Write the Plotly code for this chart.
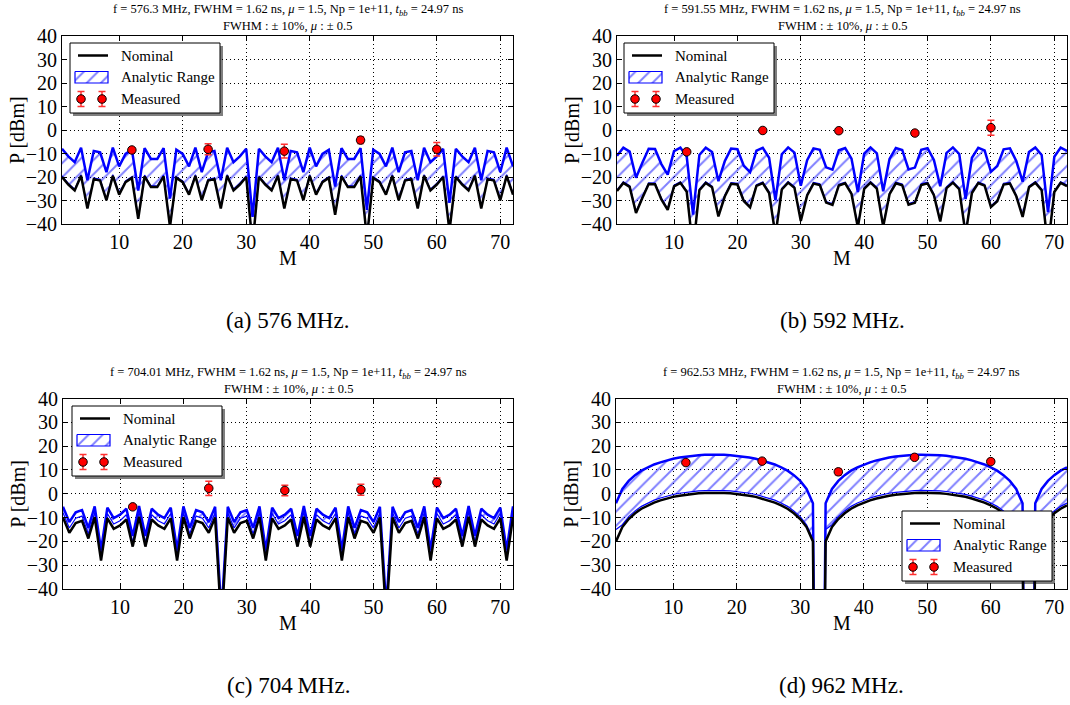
import plotly.graph_objects as go

W, H = 1070, 705
FONT = "Liberation Serif"

M = list(range(1, 73))
M_MEAS = [12, 24, 36, 48, 60]
XTICKS = [10, 20, 30, 40, 50, 60, 70]
YTICKS = [-40, -30, -20, -10, 0, 10, 20, 30, 40]
YTICKTEXT = ["\u221240", "\u221230", "\u221220", "\u221210", "0", "10", "20", "30", "40"]
LEGEND_NAMES = ["Nominal", "Analytic Range", "Measured"]

# ---------------- (a) 576 MHz ----------------
A_NOM = [-20.0, -23.2, -25.7, -19.5, -33.4, -20.9, -21.5, -29.9, -19.5, -27.5,
         -22.2, -20.4, -37.8, -19.7, -24.3, -24.3, -19.7, -41.2, -20.4, -22.2,
         -27.5, -19.5, -29.9, -21.5, -20.9, -33.4, -19.5, -25.7, -23.2, -20.0,
         -49.0, -20.0, -23.2, -25.7, -19.5, -33.4, -20.9, -21.5, -29.9, -19.5,
         -27.5, -22.2, -20.4, -36.1, -19.7, -24.3, -24.3, -19.7, -46.0, -20.4,
         -22.2, -27.5, -19.5, -29.9, -21.5, -20.9, -33.4, -19.5, -25.7, -23.2,
         -20.0, -43.0, -20.0, -23.2, -25.7, -19.5, -33.4, -20.9, -21.5, -29.9,
         -19.5, -27.5]
A_UP = [-8.0, -11.2, -13.7, -7.5, -21.4, -8.9, -9.5, -17.9, -7.5, -15.5,
        -10.2, -8.4, -25.8, -7.7, -12.3, -12.3, -7.7, -29.2, -8.4, -10.2,
        -15.5, -7.5, -17.9, -9.5, -8.9, -21.4, -7.5, -13.7, -11.2, -8.0,
        -37.0, -8.0, -11.2, -13.7, -7.5, -21.4, -8.9, -9.5, -17.9, -7.5,
        -15.5, -10.2, -8.4, -24.1, -7.7, -12.3, -12.3, -7.7, -34.0, -8.4,
        -10.2, -15.5, -7.5, -17.9, -9.5, -8.9, -21.4, -7.5, -13.7, -11.2,
        -8.0, -31.0, -8.0, -11.2, -13.7, -7.5, -21.4, -8.9, -9.5, -17.9,
        -7.5, -15.5]
A_LOW = [-19.5, -22.7, -25.2, -19.0, -32.9, -20.4, -21.0, -29.4, -19.0, -27.0,
         -21.7, -19.9, -37.3, -19.2, -23.8, -23.8, -19.2, -40.7, -19.9, -21.7,
         -27.0, -19.0, -29.4, -21.0, -20.4, -32.9, -19.0, -25.2, -22.7, -19.5,
         -48.5, -19.5, -22.7, -25.2, -19.0, -32.9, -20.4, -21.0, -29.4, -19.0,
         -27.0, -21.7, -19.9, -35.6, -19.2, -23.8, -23.8, -19.2, -45.5, -19.9,
         -21.7, -27.0, -19.0, -29.4, -21.0, -20.4, -32.9, -19.0, -25.2, -22.7,
         -19.5, -42.5, -19.5, -22.7, -25.2, -19.0, -32.9, -20.4, -21.0, -29.4,
         -19.0, -27.0]
A_MEAS = [-8.5, -8.2, -9.0, -4.3, -8.2]
A_ERR = [0.5, 2.3, 2.9, 1.4, 2.9]

# ---------------- (b) 592 MHz ----------------
B_NOM = [-26.0, -22.5, -24.2, -35.3, -28.9, -23.0, -23.1, -29.5, -34.0, -24.0,
         -22.5, -26.3, -51.0, -25.6, -22.5, -24.4, -36.8, -28.3, -22.9, -23.2,
         -30.2, -32.9, -23.8, -22.6, -26.8, -44.9, -25.3, -22.4, -24.6, -38.7,
         -27.8, -22.8, -23.4, -30.9, -31.9, -23.6, -22.7, -27.2, -41.4, -25.0,
         -22.4, -24.9, -41.1, -27.3, -22.7, -23.5, -31.8, -31.0, -23.4, -22.7,
         -27.7, -38.9, -24.7, -22.4, -25.2, -44.4, -26.8, -22.6, -23.7, -32.8,
         -30.3, -23.2, -22.8, -28.2, -37.0, -24.4, -22.4, -25.6, -49.9, -26.4,
         -22.5, -23.9]
B_UP = [-11.0, -7.5, -9.2, -20.3, -13.9, -8.0, -8.1, -14.5, -19.0, -9.0,
        -7.5, -11.3, -36.0, -10.6, -7.5, -9.4, -21.8, -13.3, -7.9, -8.2,
        -15.2, -17.9, -8.8, -7.6, -11.8, -29.9, -10.3, -7.4, -9.6, -23.7,
        -12.8, -7.8, -8.4, -15.9, -16.9, -8.6, -7.7, -12.2, -26.4, -10.0,
        -7.4, -9.9, -26.1, -12.3, -7.7, -8.5, -16.8, -16.0, -8.4, -7.7,
        -12.7, -23.9, -9.7, -7.4, -10.2, -29.4, -11.8, -7.6, -8.7, -17.8,
        -15.3, -8.2, -7.8, -13.2, -22.0, -9.4, -7.4, -10.6, -34.9, -11.4,
        -7.5, -8.9]
B_LOW = [-25.5, -22.0, -23.7, -34.8, -28.4, -22.5, -22.6, -29.0, -33.5, -23.5,
         -22.0, -25.8, -50.5, -25.1, -22.0, -23.9, -36.3, -27.8, -22.4, -22.7,
         -29.7, -32.4, -23.3, -22.1, -26.3, -44.4, -24.8, -21.9, -24.1, -38.2,
         -27.3, -22.3, -22.9, -30.4, -31.4, -23.1, -22.2, -26.7, -40.9, -24.5,
         -21.9, -24.4, -40.6, -26.8, -22.2, -23.0, -31.3, -30.5, -22.9, -22.2,
         -27.2, -38.4, -24.2, -21.9, -24.7, -43.9, -26.3, -22.1, -23.2, -32.3,
         -29.8, -22.7, -22.3, -27.7, -36.5, -23.9, -21.9, -25.1, -49.4, -25.9,
         -22.0, -23.4]
B_MEAS = [-9.3, -0.2, -0.3, -1.3, 1.0]
B_ERR = [0.4, 0.5, 0.8, 0.8, 3.2]

# ---------------- (c) 704 MHz ----------------
C_NOM = [-10.0, -16.4, -12.3, -11.4, -18.8, -9.8, -28.1, -10.3, -14.7, -13.3,
         -10.8, -22.2, -9.7, -22.2, -10.8, -13.3, -14.7, -10.3, -28.1, -9.8,
         -18.8, -11.4, -12.3, -16.4, -10.0, -55.0, -10.0, -16.4, -12.3, -11.4,
         -18.8, -9.8, -28.1, -10.3, -14.7, -13.3, -10.8, -22.2, -9.7, -22.2,
         -10.8, -13.3, -14.7, -10.3, -28.1, -9.8, -18.8, -11.4, -12.3, -16.4,
         -10.0, -52.0, -10.0, -16.4, -12.3, -11.4, -18.8, -9.8, -28.1, -10.3,
         -14.7, -13.3, -10.8, -22.2, -9.7, -22.2, -10.8, -13.3, -14.7, -10.3,
         -28.1, -9.8]
C_UP = [-5.5, -11.9, -7.8, -6.9, -14.3, -5.3, -23.6, -5.8, -10.2, -8.8,
        -6.3, -17.7, -5.2, -17.7, -6.3, -8.8, -10.2, -5.8, -23.6, -5.3,
        -14.3, -6.9, -7.8, -11.9, -5.5, -50.5, -5.5, -11.9, -7.8, -6.9,
        -14.3, -5.3, -23.6, -5.8, -10.2, -8.8, -6.3, -17.7, -5.2, -17.7,
        -6.3, -8.8, -10.2, -5.8, -23.6, -5.3, -14.3, -6.9, -7.8, -11.9,
        -5.5, -47.5, -5.5, -11.9, -7.8, -6.9, -14.3, -5.3, -23.6, -5.8,
        -10.2, -8.8, -6.3, -17.7, -5.2, -17.7, -6.3, -8.8, -10.2, -5.8,
        -23.6, -5.3]
C_LOW = [-8.0, -14.4, -10.3, -9.4, -16.8, -7.8, -26.1, -8.3, -12.7, -11.3,
         -8.8, -20.2, -7.7, -20.2, -8.8, -11.3, -12.7, -8.3, -26.1, -7.8,
         -16.8, -9.4, -10.3, -14.4, -8.0, -53.0, -8.0, -14.4, -10.3, -9.4,
         -16.8, -7.8, -26.1, -8.3, -12.7, -11.3, -8.8, -20.2, -7.7, -20.2,
         -8.8, -11.3, -12.7, -8.3, -26.1, -7.8, -16.8, -9.4, -10.3, -14.4,
         -8.0, -50.0, -8.0, -14.4, -10.3, -9.4, -16.8, -7.8, -26.1, -8.3,
         -12.7, -11.3, -8.8, -20.2, -7.7, -20.2, -8.8, -11.3, -12.7, -8.3,
         -26.1, -7.8]
C_MEAS = [-5.5, 2.3, 1.4, 1.7, 4.8]
C_ERR = [0.5, 3.0, 2.2, 2.3, 1.8]

# ---------------- (d) 962 MHz ----------------
D_NOM = [-20.0, -14.0, -10.6, -8.2, -6.3, -4.9, -3.7, -2.8, -2.0, -1.3,
         -0.8, -0.4, -0.05, 0.2, 0.35, 0.43, 0.43, 0.35, 0.2, -0.05,
         -0.4, -0.8, -1.3, -2.0, -2.8, -3.7, -4.9, -6.3, -8.2, -10.6,
         -14.0, -20.0, -300.0, -20.0, -14.0, -10.6, -8.2, -6.3, -4.9, -3.7,
         -2.8, -2.0, -1.3, -0.8, -0.4, -0.05, 0.2, 0.35, 0.43, 0.43,
         0.35, 0.2, -0.05, -0.4, -0.8, -1.3, -2.0, -2.8, -3.7, -4.9,
         -6.3, -8.2, -10.6, -14.0, -20.0, -300.0, -20.0, -14.0, -10.6, -8.2,
         -6.3, -4.9]
D_UP = [-4.0, 2.0, 5.4, 7.8, 9.7, 11.1, 12.3, 13.2, 14.0, 14.7,
        15.2, 15.6, 15.95, 16.2, 16.35, 16.43, 16.43, 16.35, 16.2, 15.95,
        15.6, 15.2, 14.7, 14.0, 13.2, 12.3, 11.1, 9.7, 7.8, 5.4,
        2.0, -4.0, -300.0, -4.0, 2.0, 5.4, 7.8, 9.7, 11.1, 12.3,
        13.2, 14.0, 14.7, 15.2, 15.6, 15.95, 16.2, 16.35, 16.43, 16.43,
        16.35, 16.2, 15.95, 15.6, 15.2, 14.7, 14.0, 13.2, 12.3, 11.1,
        9.7, 7.8, 5.4, 2.0, -4.0, -300.0, -4.0, 2.0, 5.4, 7.8,
        9.7, 11.1]
D_LOW = [-15.0, -13.0, -9.6, -7.2, -5.3, -3.9, -2.7, -1.8, -1.0, -0.3,
         0.2, 0.6, 0.95, 1.2, 1.35, 1.43, 1.43, 1.35, 1.2, 0.95,
         0.6, 0.2, -0.3, -1.0, -1.8, -2.7, -3.9, -5.3, -7.2, -9.6,
         -13.0, -19.0, -300.0, -15.0, -13.0, -9.6, -7.2, -5.3, -3.9, -2.7,
         -1.8, -1.0, -0.3, 0.2, 0.6, 0.95, 1.2, 1.35, 1.43, 1.43,
         1.35, 1.2, 0.95, 0.6, 0.2, -0.3, -1.0, -1.8, -2.7, -3.9,
         -5.3, -7.2, -9.6, -13.0, -19.0, -300.0, -15.0, -13.0, -9.6, -7.2,
         -5.3, -3.9]
D_MEAS = [13.1, 13.7, 9.2, 15.3, 13.5]
D_ERR = [0.6, 0.6, 1.3, 0.6, 1.0]

TITLE1 = ["f = 576.3 MHz", "f = 591.55 MHz", "f = 704.01 MHz", "f = 962.53 MHz"]
TITLE_REST = ", FWHM = 1.62 ns, <i>\u03bc</i> = 1.5, Np = 1e+11, <i>t<sub>bb</sub></i> = 24.97 ns"
TITLE2 = "FWHM : \u00b1 10%, <i>\u03bc</i> : \u00b1 0.5"
CAPTIONS = ["(a) 576\u2009MHz.", "(b) 592\u2009MHz.", "(c) 704\u2009MHz.", "(d) 962\u2009MHz."]

# plot areas in pixels: (left, top, right, bottom)
BOXES = [(62, 36, 513, 224), (617, 36, 1067, 224),
         (63, 398.5, 513, 589), (616, 398.5, 1067, 589)]
PANELS = [(A_NOM, A_UP, A_LOW, A_MEAS, A_ERR),
          (B_NOM, B_UP, B_LOW, B_MEAS, B_ERR),
          (C_NOM, C_UP, C_LOW, C_MEAS, C_ERR),
          (D_NOM, D_UP, D_LOW, D_MEAS, D_ERR)]
# legend boxes: (left, top) px, fixed size
LEG = [(70, 43), (624, 43), (72, 406), (902, 511)]
LW, LH = 150, 70

HATCH = dict(shape="/", fgcolor="blue", bgcolor="rgba(255,255,255,0)",
             size=10, solidity=0.2)


def px(x):
    return x / W


def py(y):
    return 1 - y / H


fig = go.Figure()
layout = dict(width=W, height=H, autosize=False,
              margin=dict(l=0, r=0, t=0, b=0, pad=0, autoexpand=False),
              paper_bgcolor="white", plot_bgcolor="rgba(0,0,0,0)",
              font=dict(family=FONT, color="black"), showlegend=False)
annotations = []

for i, (nom, up, low, meas, err) in enumerate(PANELS):
    n = "" if i == 0 else str(i + 1)
    xa, ya = "x" + n, "y" + n
    l, t, r, b = BOXES[i]
    fig.add_trace(go.Scatter(x=M, y=low, mode="lines", xaxis=xa, yaxis=ya,
                             line=dict(color="blue", width=1.2), hoverinfo="skip"))
    fig.add_trace(go.Scatter(x=M, y=up, mode="lines", xaxis=xa, yaxis=ya,
                             fill="tonexty", fillcolor="rgba(0,0,0,0)",
                             fillpattern=HATCH,
                             line=dict(color="blue", width=2.5),
                             name="Analytic Range"))
    fig.add_trace(go.Scatter(x=M, y=nom, mode="lines", xaxis=xa, yaxis=ya,
                             line=dict(color="black", width=2.5), name="Nominal"))
    fig.add_trace(go.Scatter(x=M_MEAS, y=meas, mode="markers", xaxis=xa, yaxis=ya,
                             marker=dict(color="red", size=8.5,
                                         line=dict(color="black", width=1)),
                             error_y=dict(type="data", array=err, color="#ff3030",
                                          thickness=1.5, width=3.5),
                             name="Measured"))

    axcommon = dict(ticks="inside", ticklen=5, tickcolor="black", mirror="ticks",
                    showline=True, linecolor="black", linewidth=1,
                    showgrid=True, gridcolor="black", gridwidth=1,
                    griddash="1px,3px", zeroline=False, automargin=False,
                    tickfont=dict(family=FONT, size=20))
    layout["xaxis" + n] = dict(axcommon, domain=[px(l), px(r)], anchor=ya,
                               range=[1, 72], tickvals=XTICKS)
    layout["yaxis" + n] = dict(axcommon, domain=[py(b), py(t)], anchor=xa,
                               range=[-40, 40], tickvals=YTICKS, ticktext=YTICKTEXT)

    cx = (l + r) / 2
    annotations.append(dict(x=px(cx), y=py(t - 26), xref="paper", yref="paper",
                            text=TITLE1[i] + TITLE_REST, showarrow=False,
                            font=dict(family=FONT, size=12.5), xanchor="center",
                            yanchor="middle"))
    annotations.append(dict(x=px(cx), y=py(t - 10), xref="paper", yref="paper",
                            text=TITLE2, showarrow=False,
                            font=dict(family=FONT, size=12.5), xanchor="center",
                            yanchor="middle"))
    annotations.append(dict(x=px(cx), y=py(b + 34), xref="paper", yref="paper",
                            text="M", showarrow=False,
                            font=dict(family=FONT, size=20), xanchor="center",
                            yanchor="middle"))
    annotations.append(dict(x=px(l - 45), y=py((t + b) / 2), xref="paper", yref="paper",
                            text="P [dBm]", showarrow=False, textangle=-90,
                            font=dict(family=FONT, size=20), xanchor="center",
                            yanchor="middle"))
    annotations.append(dict(x=px(cx), y=py(b + 96), xref="paper", yref="paper",
                            text=CAPTIONS[i], showarrow=False,
                            font=dict(family=FONT, size=23), xanchor="center",
                            yanchor="middle"))

# ---- overlay pixel-space axis for matplotlib-like legends ----
OV_X, OV_Y = "x5", "y5"
layout["xaxis5"] = dict(domain=[0, 1], range=[0, W], visible=False, fixedrange=True,
                        anchor="y5", automargin=False)
layout["yaxis5"] = dict(domain=[0, 1], range=[H, 0], visible=False, fixedrange=True,
                        anchor="x5", automargin=False)

for (L, T) in LEG:
    R, B = L + LW, T + LH
    fig.add_trace(go.Scatter(x=[L + 3, R + 3, R + 3, L + 3, L + 3],
                             y=[T + 3, T + 3, B + 3, B + 3, T + 3],
                             mode="none", fill="toself", fillcolor="rgba(0,0,0,0.5)",
                             xaxis=OV_X, yaxis=OV_Y, hoverinfo="skip"))
    fig.add_trace(go.Scatter(x=[L, R, R, L, L], y=[T, T, B, B, T],
                             mode="lines", fill="toself", fillcolor="white",
                             line=dict(color="black", width=1),
                             xaxis=OV_X, yaxis=OV_Y, hoverinfo="skip"))
    fig.add_trace(go.Scatter(x=[L + 8, L + 38], y=[T + 12.5, T + 12.5], mode="lines",
                             line=dict(color="black", width=2.5),
                             xaxis=OV_X, yaxis=OV_Y, hoverinfo="skip"))
    fig.add_trace(go.Scatter(x=[L + 5, L + 38, L + 38, L + 5, L + 5],
                             y=[T + 28.5, T + 28.5, T + 40, T + 40, T + 28.5],
                             mode="lines", fill="toself", fillcolor="rgba(0,0,0,0)",
                             fillpattern=HATCH, line=dict(color="blue", width=1.2),
                             xaxis=OV_X, yaxis=OV_Y, hoverinfo="skip"))
    fig.add_trace(go.Scatter(x=[L + 11, L + 32], y=[T + 56, T + 56], mode="markers",
                             marker=dict(color="red", size=8.5,
                                         line=dict(color="black", width=1)),
                             error_y=dict(type="constant", value=7.5, color="#ff3030",
                                          thickness=1.5, width=3.5),
                             xaxis=OV_X, yaxis=OV_Y, hoverinfo="skip"))
    for k, name in enumerate(LEGEND_NAMES):
        annotations.append(dict(x=L + 49, y=T + [12.5, 34, 56][k], xref=OV_X, yref=OV_Y,
                                text=name, showarrow=False, xanchor="left",
                                yanchor="middle", font=dict(family=FONT, size=15)))

layout["annotations"] = annotations
fig.update_layout(**layout)

POST = ("var s=document.createElement('style');"
        "s.innerHTML='html,body{margin:0;padding:0;overflow:hidden;width:1070px;height:705px;}';"
        "document.head.appendChild(s);")
fig.write_html("out.html", post_script=POST,
               config={"displayModeBar": False, "responsive": False,
                       "staticPlot": True})
